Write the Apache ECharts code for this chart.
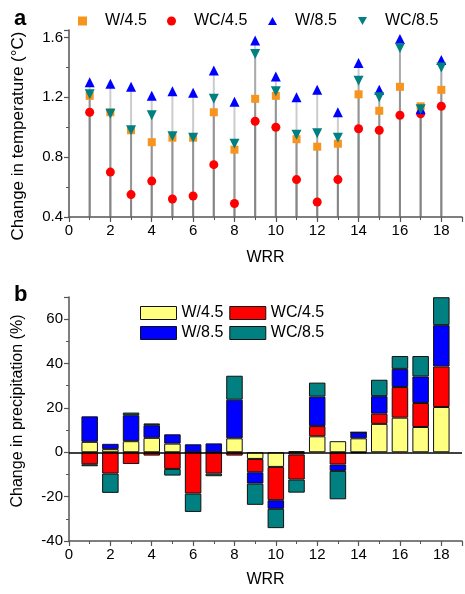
<!DOCTYPE html>
<html>
<head>
<meta charset="utf-8">
<script src="https://cdn.jsdelivr.net/npm/echarts@6/dist/echarts.min.js"></script>
<style>html,body{margin:0;padding:0;background:#fff}#c{width:465px;height:594px}</style>
</head>
<body>
<div id="c"></div>
<script>
// WRR categories (x positions)
const wrr = [1,2,3,4,5,6,7,8,9,10,11,12,13,14,15,16,17,18];
const xTicks = [0,2,4,6,8,10,12,14,16,18];

// Panel a: change in temperature (°C)
const tW45  = [1.21,1.10,0.98,0.90,0.93,0.93,1.10,0.85,1.19,1.21,0.92,0.87,0.89,1.22,1.11,1.27,1.14,1.25];
const tWC45 = [1.10,0.70,0.55,0.64,0.52,0.54,0.75,0.49,1.04,1.00,0.65,0.50,0.65,0.99,0.98,1.08,1.09,1.14];
const tW85  = [1.30,1.29,1.27,1.21,1.24,1.23,1.38,1.17,1.58,1.34,1.20,1.25,1.10,1.43,1.25,1.59,1.12,1.45];
const tWC85 = [1.22,1.09,0.98,1.08,0.94,0.93,1.19,0.89,1.49,1.24,0.95,0.96,0.93,1.31,1.20,1.53,1.12,1.40];

// Panel b: change in precipitation (%)
const pW45  = [4.7,1.4,5.0,6.5,3.9,0,0,6.3,-3.0,-6.6,-1.0,7.2,5.0,6.3,12.8,15.6,11.4,20.4];
const pWC45 = [-5.4,-9.6,-5.3,-1.5,-7.5,-18.6,-9.6,-1.5,-6.0,-15.0,-11.3,4.6,-5.5,-0.4,4.6,13.8,10.8,18.3];
const pW85  = [11.5,2.4,11.7,5.7,4.2,3.6,4.0,17.4,-5.1,-3.9,0.5,13.3,-2.9,2.7,7.9,8.2,12.0,18.6];
const pWC85 = [-0.9,-8.7,1.2,0.8,-3.0,-8.3,-1.2,10.8,-9.6,-8.7,-5.9,6.3,-12.8,0,7.4,5.8,9.2,12.6];

const names = ['W/4.5','WC/4.5','W/8.5','WC/8.5'];
const markColors = ['#F7941D','#FF0000','#0000FF','#008080'];
const barColors = ['#FFFF80','#FF0000','#0000FF','#008080'];

const FONT = 'Liberation Sans, Arial, sans-serif';
const pair = arr => arr.map((v,i)=>[wrr[i], v]);
// hidden category axis 0..19 used to place stacked bars on the WRR positions
const barCats = [0].concat(wrr, [19]).map(String);
const padded = arr => [null].concat(arr, [null]);

const axisCommon = {
  axisLine:{show:true, onZero:false, lineStyle:{color:'#555', width:1.5}},
  axisTick:{show:true, inside:false, length:5, lineStyle:{color:'#555', width:1.2}},
  minorTick:{show:true, splitNumber:2, length:3, lineStyle:{color:'#555', width:1}},
  splitLine:{show:false},
  axisLabel:{color:'#000', fontSize:15, fontFamily:FONT, margin:6},
  nameTextStyle:{color:'#000', fontSize:16, fontFamily:FONT}
};

const dropRender = function(params, api){
  const x = api.value(0), y = api.value(1);
  const p0 = api.coord([x, 0.4]);
  const p1 = api.coord([x, y]);
  return {type:'line', shape:{x1:p0[0], y1:p0[1], x2:p1[0], y2:p1[1]},
          style:{stroke:'rgba(105,105,105,0.34)', lineWidth:2}};
};

const tempData = [tW45, tWC45, tW85, tWC85];
const precData = [pW45, pWC45, pW85, pWC85];
const symbols = ['rect','circle','triangle','triangle'];
const symSizes = [8,9,10,10];
const symRot = [0,0,0,180];
const legendIcons = ['path://M0,0L10,0L10,10L0,10Z','circle','path://M5,0L10,9L0,9Z','path://M0,0L10,0L5,9Z'];
const legendLeft = [78,167,268,358];

const series = [];
tempData.forEach((d,k)=>{
  series.push({type:'custom', name:'drop'+k, xAxisIndex:0, yAxisIndex:0, data:pair(d),
    renderItem:dropRender, z:1, silent:true});
});
tempData.forEach((d,k)=>{
  series.push({type:'scatter', name:names[k], xAxisIndex:0, yAxisIndex:0, data:pair(d),
    symbol:symbols[k], symbolSize:symSizes[k], symbolRotate:symRot[k],
    itemStyle:{color:markColors[k], opacity:1}, z:3});
});
precData.forEach((d,k)=>{
  const s = {type:'bar', name:names[k], xAxisIndex:2, yAxisIndex:1, data:padded(d), stack:'p',
    barWidth:16.5, itemStyle:{color:barColors[k], borderColor:'#111', borderWidth:1}};
  if(k===0){
    s.markLine = {silent:true, symbol:'none', label:{show:false},
      lineStyle:{color:'#000', width:1.5, type:'solid'}, data:[{yAxis:0}], animation:false};
  }
  series.push(s);
});

const xLabelFmt = v => xTicks.indexOf(v)>=0 ? String(v) : '';

const topLegends = names.map((n,k)=>({
  left:legendLeft[k], top:13, padding:0, itemWidth:9, itemHeight:9, selectedMode:false,
  textStyle:{fontSize:16, fontFamily:FONT, color:'#000', padding:[0,0,0,13]},
  data:[{name:n, icon:legendIcons[k], itemStyle:{color:markColors[k], borderWidth:0}}]
}));

const option = {
  animation:false,
  backgroundColor:'#fff',
  title:[
    {text:'a', left:9, top:3, textStyle:{fontSize:22, fontWeight:'bold', fontFamily:FONT, color:'#000'}},
    {text:'b', left:9, top:279, textStyle:{fontSize:22, fontWeight:'bold', fontFamily:FONT, color:'#000'}}
  ],
  graphic:[
    {type:'text', x:18, y:136, rotation:Math.PI/2,
     style:{text:'Change in temperature (°C)', fontSize:17, fontFamily:FONT, fill:'#000',
            align:'center', verticalAlign:'middle'}},
    {type:'text', x:18, y:411, rotation:Math.PI/2,
     style:{text:'Change in precipitation (%)', fontSize:16, fontFamily:FONT, fill:'#000',
            align:'center', verticalAlign:'middle'}}
  ],
  legend:topLegends.concat([
    {left:140, top:305, padding:0, itemWidth:36, itemHeight:13, itemGap:6, selectedMode:false,
     textStyle:{fontSize:16, fontFamily:FONT, color:'#000'},
     data:[
       {name:'W/4.5', icon:'rect', itemStyle:{color:barColors[0], borderColor:'#111', borderWidth:1}},
       {name:'WC/4.5', icon:'rect', itemStyle:{color:barColors[1], borderColor:'#111', borderWidth:1}}
     ]},
    {left:140, top:325, padding:0, itemWidth:36, itemHeight:13, itemGap:6, selectedMode:false,
     textStyle:{fontSize:16, fontFamily:FONT, color:'#000'},
     data:[
       {name:'W/8.5', icon:'rect', itemStyle:{color:barColors[2], borderColor:'#111', borderWidth:1}},
       {name:'WC/8.5', icon:'rect', itemStyle:{color:barColors[3], borderColor:'#111', borderWidth:1}}
     ]}
  ]),
  grid:[
    {left:69, right:3, top:30, height:187, containLabel:false},
    {left:69, right:3, top:297, height:244, containLabel:false}
  ],
  xAxis:[
    Object.assign({}, axisCommon, {type:'value', gridIndex:0, min:0, max:19, interval:2,
      name:'WRR', nameLocation:'middle', nameGap:33,
      axisLabel:Object.assign({}, axisCommon.axisLabel, {showMaxLabel:false, formatter:xLabelFmt})}),
    Object.assign({}, axisCommon, {type:'value', gridIndex:1, min:0, max:19, interval:2,
      name:'WRR', nameLocation:'middle', nameGap:31,
      axisLabel:Object.assign({}, axisCommon.axisLabel, {showMaxLabel:false, formatter:xLabelFmt})}),
    {type:'category', gridIndex:1, data:barCats, boundaryGap:false, show:false}
  ],
  yAxis:[
    Object.assign({}, axisCommon, {type:'value', gridIndex:0, min:0.4, max:1.65, interval:0.4,
      axisLabel:Object.assign({}, axisCommon.axisLabel, {showMaxLabel:false,
        formatter:v=> v.toFixed(1)})}),
    Object.assign({}, axisCommon, {type:'value', gridIndex:1, min:-40, max:70, interval:20,
      axisLabel:Object.assign({}, axisCommon.axisLabel, {showMaxLabel:false})})
  ],
  series:series
};

const chart = echarts.init(document.getElementById('c'), null, {renderer:'canvas'});
chart.setOption(option);
</script>
</body>
</html>
